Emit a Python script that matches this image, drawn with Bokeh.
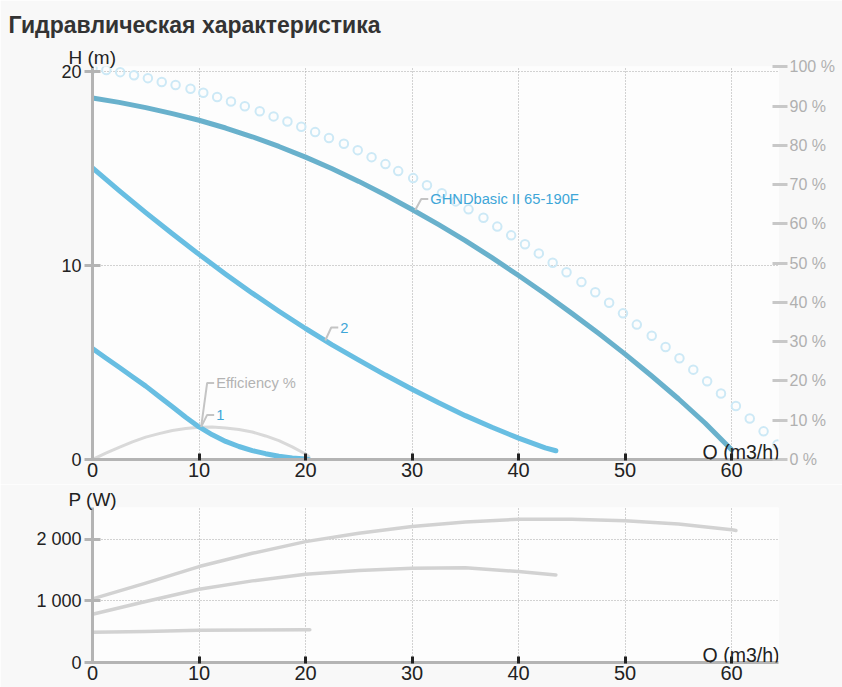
from bokeh.plotting import figure
from bokeh.models import Range1d, LinearAxis, FixedTicker, Label, Title
from bokeh.layouts import column
from bokeh.embed import file_html
from bokeh.resources import INLINE

# ---------------- data ----------------
title_text = "Гидравлическая характеристика"

q_ticks = [0, 10, 20, 30, 40, 50, 60]
h_ticks = [0, 10, 20]
pct_ticks = [0, 10, 20, 30, 40, 50, 60, 70, 80, 90, 100]
p_ticks = [0, 1000, 2000]
p_tick_labels = ["0", "1 000", "2 000"]

# main curve (GHNDbasic II 65-190F)
main_q = [0, 2.5, 5, 7.5, 10, 12.5, 15, 17.5, 20, 22.5, 25, 27.5, 30, 32.5, 35,
          37.5, 40, 42.5, 45, 47.5, 50, 52.5, 55, 57.5, 60]
main_h = [18.63, 18.4, 18.13, 17.82, 17.48, 17.08, 16.63, 16.13, 15.58, 14.98, 14.33,
          13.63, 12.88, 12.1, 11.28, 10.4, 9.48, 8.53, 7.53, 6.5, 5.43, 4.3, 3.13,
          1.88, 0.5]

# speed 2
c2_q = [0, 2.5, 5, 7.5, 10, 12.5, 15, 17.5, 20, 22.5, 25, 27.5, 30, 32.5, 35, 37.5,
        40, 42.5, 43.5]
c2_h = [15.02, 13.85, 12.72, 11.63, 10.57, 9.55, 8.57, 7.64, 6.75, 5.91, 5.12, 4.35,
        3.62, 2.92, 2.26, 1.66, 1.1, 0.6, 0.45]

# speed 1
c1_q = [0, 1.25, 2.5, 3.75, 5, 6.25, 7.5, 8.75, 10, 11.25, 12.5, 13.75, 15, 16.25,
        17.5, 18.75, 20, 20.3]
c1_h = [5.72, 5.23, 4.75, 4.26, 3.78, 3.25, 2.72, 2.18, 1.68, 1.27, 0.93, 0.67, 0.46,
        0.3, 0.17, 0.08, 0.03, 0.0]

# efficiency %
eff_q = [0, 1.25, 2.5, 3.75, 5, 6.25, 7.5, 8.75, 10, 11.25, 12.5, 13.75, 15, 16.25,
         17.5, 18.75, 20, 20.3]
eff_pct = [0, 1.6, 3.1, 4.5, 5.7, 6.6, 7.4, 7.9, 8.2, 8.25, 8.05, 7.65, 7.0, 6.0, 4.8,
           3.2, 1.4, 0.8]

# dotted (circle) curve
circ_q = [0.0, 1.3, 2.6, 3.9, 5.2, 6.5, 7.8, 9.2, 10.4, 11.7, 13.0, 14.3, 15.7, 17.0,
          18.3, 19.6, 20.9, 22.2, 23.6, 24.9, 26.2, 27.5, 28.7, 30.1, 31.4, 32.8, 34.1,
          35.3, 36.7, 38.0, 39.3, 40.6, 41.9, 43.2, 44.5, 45.9, 47.2, 48.5, 49.8, 51.1,
          52.5, 53.8, 55.1, 56.4, 57.7, 59.0, 60.4, 61.7, 63.0, 64.3]
circ_h = [20.15, 20.07, 19.96, 19.8, 19.65, 19.45, 19.3, 19.1, 18.9, 18.68, 18.45, 18.2,
          17.94, 17.68, 17.42, 17.15, 16.87, 16.57, 16.27, 15.94, 15.58, 15.22, 14.86,
          14.5, 14.13, 13.72, 13.3, 12.89, 12.46, 12.0, 11.55, 11.09, 10.62, 10.14, 9.65,
          9.14, 8.62, 8.08, 7.53, 6.95, 6.38, 5.8, 5.22, 4.63, 4.03, 3.4, 2.76, 2.11,
          1.45, 0.77]

# curve labels and their anchor points on the curves
lab_text = ["GHNDbasic II 65-190F", "2", "1", "Efficiency %"]
lab_q = [30.3, 21.85, 10.2, 10.2]
lab_h = [12.86, 6.13, 1.68, 1.68]

# power curves
pm_q = [0, 5, 10, 15, 20, 25, 30, 35, 40, 45, 50, 55, 60, 60.4]
pm_w = [1034, 1290, 1560, 1775, 1965, 2100, 2210, 2285, 2330, 2330, 2305, 2250, 2160, 2145]
p2_q = [0, 5, 10, 15, 20, 25, 30, 35, 40, 43.5]
p2_w = [785, 992, 1192, 1327, 1436, 1495, 1533, 1542, 1478, 1424]
p1_q = [0, 5, 10, 15, 20, 20.4]
p1_w = [493, 505, 525, 530, 532, 532]

# ---------------- styling ----------------
FONT = "Liberation Sans"
PAGE_BG = "#f8f8f8"
PLOT_BG = "#fdfdfd"
AXIS_GRAY = "#b4b4b4"
GRID = "#a6a6a6"
MAIN_C = "#69b1cc"
SPEED_C = "#68bee2"
LABEL_C = "#3ea6d8"
CIRC_C = "#cde9f6"
EFF_C = "#d9d9d9"
EFF_TXT = "#b3b3b3"
POW_C = "#d2d2d2"
CONN_C = "#c4c4c4"

W = 842
LEFT = 92
RIGHT = 64
TOP1, BOT1, H1 = 66, 25, 484
TOP2, BOT2, H2 = 23, 25, 203
X_END = 64.4
H_END = 20.25
PCT_END = 100.1
P_END = 2520


def style_common(p):
    p.outline_line_color = None
    p.xaxis.ticker = FixedTicker(ticks=q_ticks)
    p.xaxis.axis_line_color = AXIS_GRAY
    p.xaxis.axis_line_width = 3
    p.xaxis.major_tick_line_color = "#222222"
    p.xaxis.major_tick_line_width = 3
    p.xaxis.major_tick_in = 6
    p.xaxis.major_tick_out = 1
    p.xaxis.minor_tick_line_color = None
    p.xaxis.major_label_text_font = FONT
    p.xaxis.major_label_text_font_size = "20px"
    p.xaxis.major_label_text_color = "#222222"
    p.xaxis.major_label_standoff = 2
    p.yaxis.axis_line_color = AXIS_GRAY
    p.yaxis.axis_line_width = 3
    p.yaxis.major_tick_line_color = AXIS_GRAY
    p.yaxis.major_tick_line_width = 3
    p.yaxis.major_tick_in = 8
    p.yaxis.major_tick_out = 8
    p.yaxis.minor_tick_line_color = None
    p.yaxis.major_label_text_font = FONT
    p.yaxis.major_label_text_font_size = "18px"
    p.yaxis.major_label_text_color = "#222222"
    p.yaxis.major_label_standoff = 3
    for g in (p.xgrid, p.ygrid):
        g.grid_line_color = GRID
        g.grid_line_dash = "1 2"
        g.grid_line_width = 1


# ---------------- top chart ----------------
p = figure(width=W, height=H1, x_range=Range1d(0, X_END), y_range=Range1d(0, H_END),
           output_backend="svg", toolbar_location=None, title=None,
           min_border_left=LEFT, min_border_right=58, min_border_top=TOP1,
           min_border_bottom=BOT1, background_fill_color=PLOT_BG,
           border_fill_color=PAGE_BG)
p.extra_y_ranges = {"pct": Range1d(0, PCT_END)}
style_common(p)
p.yaxis.ticker = FixedTicker(ticks=h_ticks)

# axis caption next to the frame, chart title above it
p.add_layout(Title(text="H (m)", align="left", offset=-24, standoff=-2,
                   vertical_align="bottom", text_font=FONT, text_font_size="19px",
                   text_font_style="normal", text_color="#222222"), "above")
p.add_layout(Title(text=title_text, align="left", offset=-84, standoff=11,
                   vertical_align="top", text_font=FONT, text_font_size="23px",
                   text_font_style="bold", text_color="#333333"), "above")

pct_axis = LinearAxis(y_range_name="pct", ticker=FixedTicker(ticks=pct_ticks),
                      major_label_overrides={t: f"{t} %" for t in pct_ticks})
pct_axis.axis_line_color = None
pct_axis.major_tick_line_color = "#c8c8c8"
pct_axis.major_tick_line_width = 3
pct_axis.major_tick_in = 6
pct_axis.major_tick_out = 9
pct_axis.minor_tick_line_color = None
pct_axis.major_label_text_font = FONT
pct_axis.major_label_text_font_size = "16px"
pct_axis.major_label_text_color = "#b0b0b0"
pct_axis.major_label_standoff = 2
p.add_layout(pct_axis, "right")

p.scatter(circ_q, circ_h, marker="circle", size=8.5, fill_color=None,
          line_color=CIRC_C, line_width=2)
p.line(eff_q, eff_pct, y_range_name="pct", line_color=EFF_C, line_width=3,
       line_join="round", line_cap="round")
p.line(main_q, main_h, line_color=MAIN_C, line_width=5, line_join="round", line_cap="round")
p.line(c2_q, c2_h, line_color=SPEED_C, line_width=5, line_join="round", line_cap="round")
p.line(c1_q, c1_h, line_color=SPEED_C, line_width=5, line_join="round", line_cap="round")

# leader lines for the curve labels (pixel offsets converted to data units)
frame_w = W - LEFT - RIGHT
frame_h = H1 - TOP1 - BOT1
px_q = X_END / frame_w
px_h = H_END / frame_h
rise_px = [11, 13, 12, 44]
xs, ys = [], []
for q, h, r in zip(lab_q, lab_h, rise_px):
    kq, kh = q + 6 * px_q, h + r * px_h
    xs.append([q, kq, kq + 7 * px_q])
    ys.append([h, kh, kh])
p.multi_line(xs, ys, line_color=CONN_C, line_width=2)
for t, x, y in zip(lab_text, xs, ys):
    p.add_layout(Label(x=x[2], y=y[2], x_offset=2, text=t, text_baseline="middle",
                       text_font=FONT, text_font_size="14.7px",
                       text_color=EFF_TXT if t.startswith("Eff") else LABEL_C))

p.add_layout(Label(x=X_END, y=0, x_offset=1, y_offset=-3, text="Q (m3/h)",
                   text_align="right", text_baseline="bottom", text_font=FONT,
                   text_font_size="19.5px", text_color="#222222"))

# ---------------- bottom chart ----------------
q2 = figure(width=W, height=H2, x_range=p.x_range, y_range=Range1d(0, P_END),
            output_backend="svg", toolbar_location=None, title=None,
            min_border_left=LEFT, min_border_right=RIGHT, min_border_top=TOP2,
            min_border_bottom=BOT2, background_fill_color=PLOT_BG,
            border_fill_color=PAGE_BG)
style_common(q2)
q2.yaxis.ticker = FixedTicker(ticks=p_ticks)
q2.yaxis.major_label_overrides = dict(zip(p_ticks, p_tick_labels))
q2.add_layout(Title(text="P (W)", align="left", offset=-24, standoff=-4,
                    vertical_align="bottom", text_font=FONT, text_font_size="19px",
                    text_font_style="normal", text_color="#222222"), "above")

q2.line(pm_q, pm_w, line_color=POW_C, line_width=3.5, line_join="round", line_cap="round")
q2.line(p2_q, p2_w, line_color=POW_C, line_width=3.5, line_join="round", line_cap="round")
q2.line(p1_q, p1_w, line_color=POW_C, line_width=3.5, line_join="round", line_cap="round")

q2.add_layout(Label(x=X_END, y=0, x_offset=1, y_offset=-3, text="Q (m3/h)",
                    text_align="right", text_baseline="bottom", text_font=FONT,
                    text_font_size="19.5px", text_color="#222222"))

layout = column(p, q2, spacing=0)
open("out.html", "w").write(file_html(layout, INLINE))
